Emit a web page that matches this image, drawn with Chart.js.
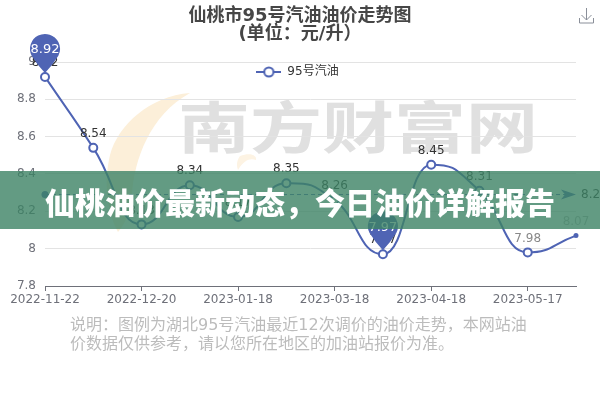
<!DOCTYPE html>
<html lang="zh">
<head>
<meta charset="utf-8">
<script src="https://cdn.jsdelivr.net/npm/chart.js@4"></script>
<style>
html,body{margin:0;padding:0;background:#fff;width:600px;height:400px;overflow:hidden;font-family:"DejaVu Sans","Noto Sans CJK SC",sans-serif}
#wm,#moon,#icon,#note,#banner,#wrap{position:absolute}
#wrap{left:0;top:0;width:600px;height:400px}
#moon{left:0;top:0}
#wm{left:178px;top:82px;font:700 72px "Noto Sans CJK SC";color:#e0e0e0;white-space:nowrap;transform:scaleY(.78);transform-origin:0 0}
#icon{left:578px;top:7px}
#note{left:70px;top:315px;width:480px;font:16px/19px "DejaVu Sans","Noto Sans CJK SC";color:#bcbcbc;white-space:nowrap}
#banner{left:0;top:171px;width:600px;height:58px;background:rgba(60,130,100,.8);color:#fff;font:900 30px/60px "Noto Sans CJK SC";text-align:center;white-space:nowrap}
</style>
</head>
<body>
<svg id="moon" width="600" height="400"><path d="M190 93C150 96 118 125 110 155C104 180 106 210 118 232C124 225 130 215 132 195C134 160 150 115 190 93Z" fill="#fcefd9"/><path d="M240 156C250 152 257 155 256 160C250 158 244 160 238 170C236 165 237 160 240 156Z" fill="#fdf3e3"/></svg>
<div id="wm">南方财富网</div>
<div id="wrap"><canvas id="c" width="600" height="400"></canvas></div>
<svg id="icon" width="18" height="18" fill="none" stroke="#8a8f99" stroke-width="1"><path d="M8.5 1V13M3.5 8L8.5 13L13.5 8M1.5 11V16H15.5V11"/></svg>
<div id="note">说明：图例为湖北95号汽油最近12次调价的油价走势，本网站油<br>价数据仅供参考，请以您所在地区的加油站报价为准。</div>
<div id="banner">仙桃油价最新动态，今日油价详解报告</div>
<script>
const shownDates = ["2022-11-22","2022-12-06","2022-12-20","2023-01-03","2023-01-18","2023-02-03","2023-03-18","2023-04-03","2023-04-18","2023-05-04","2023-05-17","2023-05-31"];
const prices = [8.92,8.54,8.13,8.34,8.17,8.35,8.26,7.97,8.45,8.31,7.98,8.07];
const meanPrice = 8.29;
const pinnedIndexes = [0,7];
const labelColors = ["#333","#333","#333","#333","#333","#333","#333","#333","#333","#444","#888","#bbb"];
const blue = "#4f64b4";
Chart.defaults.font.family = '"DejaVu Sans","Noto Sans CJK SC",sans-serif';
Chart.defaults.animation = false;

const legendMark = document.createElement("canvas");
legendMark.width = 25; legendMark.height = 14;
(function(){
  const g = legendMark.getContext("2d");
  g.strokeStyle = blue; g.lineWidth = 2;
  g.beginPath(); g.moveTo(0,7); g.lineTo(25,7); g.stroke();
  g.fillStyle = "#fff"; g.beginPath(); g.arc(12.5,7,4.6,0,Math.PI*2); g.fill(); g.stroke();
})();

const overlay = {
  id:"overlay",
  beforeDraw(chart){
    const L = chart.legend, w = L.width;
    L.left = 300 - w/2; L.right = L.left + w;
    L.top = 62; L.bottom = 82;
    chart.titleBlock.left = 0; chart.titleBlock.right = 600;
  },
  beforeDatasetsDraw(chart){
    const pts = chart.getDatasetMeta(0).data, k = 1.5;
    pts.forEach((p,i)=>{
      if (p._widened) return;
      p._widened = true;
      if (i>0){ p.cp1x = p.x+(p.cp1x-p.x)*k; p.cp1y = p.y+(p.cp1y-p.y)*k; }
      if (i<pts.length-1){ p.cp2x = p.x+(p.cp2x-p.x)*k; p.cp2y = p.y+(p.cp2y-p.y)*k; }
    });
  },
  afterDatasetsDraw(chart){
    const {ctx,scales:{x,y},chartArea:a} = chart;
    const pts = chart.getDatasetMeta(0).data;
    ctx.save();
    const my = y.getPixelForValue(meanPrice);
    ctx.strokeStyle = blue; ctx.lineWidth = 1; ctx.setLineDash([4,3]);
    ctx.beginPath(); ctx.moveTo(a.left,my); ctx.lineTo(a.right-8,my); ctx.stroke();
    ctx.setLineDash([]);
    ctx.fillStyle = blue;
    ctx.beginPath(); ctx.arc(a.left,my,3.5,0,Math.PI*2); ctx.fill();
    ctx.beginPath(); ctx.moveTo(a.right,my); ctx.lineTo(a.right-15,my-5); ctx.lineTo(a.right-11,my); ctx.lineTo(a.right-15,my+5); ctx.closePath(); ctx.fill();
    ctx.font = "12px 'DejaVu Sans'"; ctx.textAlign="left"; ctx.textBaseline="middle"; ctx.fillStyle="#333";
    ctx.fillText(meanPrice.toFixed(2),a.right+5,my);
    ctx.textAlign="center"; ctx.textBaseline="bottom";
    pts.forEach((p,i)=>{ ctx.fillStyle=labelColors[i]; ctx.fillText(prices[i].toFixed(2),p.x,p.y-8); });
    pinnedIndexes.forEach(i=>{
      const p = pts[i], cx=p.x, tip=p.y-4, cy=tip-24, r=15;
      ctx.fillStyle = blue;
      ctx.beginPath();
      ctx.arc(cx,cy,r,Math.PI*0.85,Math.PI*0.15);
      ctx.quadraticCurveTo(cx+7,cy+17,cx,tip);
      ctx.quadraticCurveTo(cx-7,cy+17,cx-r*Math.cos(Math.PI*0.15),cy+r*Math.sin(Math.PI*0.15));
      ctx.closePath(); ctx.fill();
      ctx.fillStyle="#fff"; ctx.textBaseline="middle"; ctx.font="13px 'DejaVu Sans'";
      ctx.fillText(prices[i].toFixed(2),cx,cy+1);
      ctx.font="12px 'DejaVu Sans'"; ctx.textBaseline="bottom";
    });
    ctx.restore();
  }
};

new Chart(document.getElementById("c"),{
  type:"line",
  data:{labels:shownDates,datasets:[{
    label:"95号汽油",
    data:prices,
    borderColor:blue,borderWidth:2,
    backgroundColor:"#fff",
    pointBackgroundColor:prices.map((v,i)=>i===prices.length-1?blue:"#fff"),
    pointBorderColor:blue,pointBorderWidth:2,
    pointRadius:prices.map((v,i)=>i===prices.length-1?1.5:4),
    cubicInterpolationMode:"monotone",
    clip:false,
    pointStyle:"circle"
  }]},
  options:{
    responsive:false,
    layout:{padding:{left:0,right:24,top:7,bottom:0}},
    plugins:{
      title:{display:true,text:["仙桃市95号汽油油价走势图","(单位：元/升）"],color:"#464646",
        font:{size:18,weight:"bold",lineHeight:1.0},padding:{top:0,bottom:19}},
      legend:{position:"chartArea",align:"center",
        labels:{usePointStyle:true,pointStyle:legendMark,pointStyleWidth:25,color:"#333",font:{size:12},padding:5,generateLabels(ch){
          return [{text:ch.data.datasets[0].label,pointStyle:legendMark,fontColor:"#333",datasetIndex:0,lineWidth:0}];
        }}},
      tooltip:{enabled:false}
    },
    scales:{
      x:{type:"category",offset:false,
        afterBuildTicks(s){s.ticks=s.ticks.filter((t,i)=>i%2===0);},
        afterFit(s){s.height=114;},
        border:{color:"#6e7079",width:1},
        grid:{drawOnChartArea:false,drawTicks:true,tickLength:5,color:"#6e7079"},
        ticks:{autoSkip:false,maxRotation:0,color:"#6e7079",font:{size:12},padding:2,
          callback(v,i){return this.getLabelForValue(v);}}
      },
      y:{min:7.8,max:9,
        afterFit(s){s.width=45;},
        border:{display:false},
        grid:{color:"#e3e3e3",drawTicks:false},
        ticks:{stepSize:0.2,color:"#6e7079",font:{size:12},padding:9,
          callback(v){return String(+v.toFixed(1));}}
      }
    }
  },
  plugins:[overlay]
});
</script>
</body>
</html>
